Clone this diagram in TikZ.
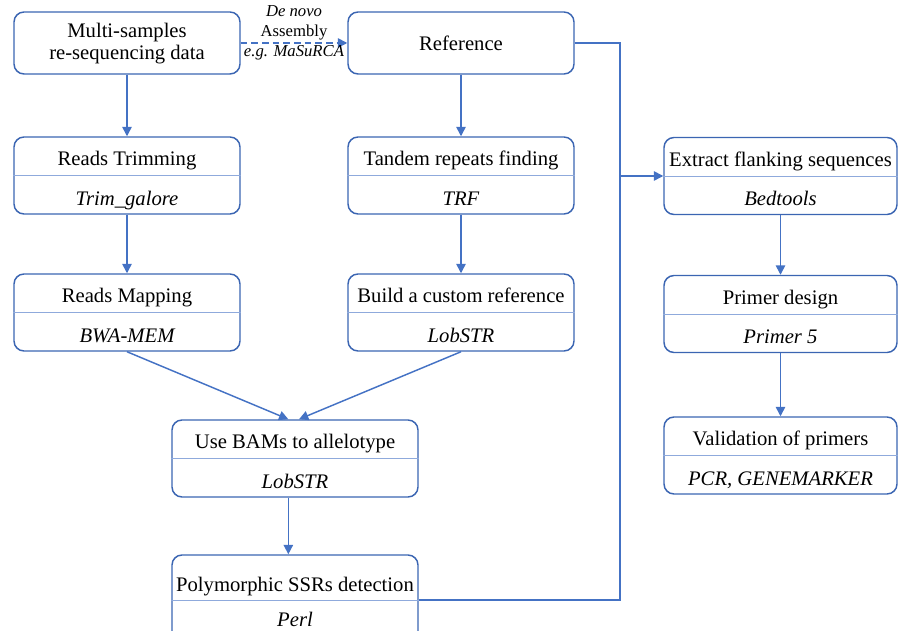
\documentclass[tikz,border=0pt]{standalone}
\usepackage{fontspec}
\setmainfont{Liberation Serif}
\usetikzlibrary{arrows.meta, positioning}
\definecolor{boxblue}{HTML}{3B65B2}
\definecolor{lineblue}{HTML}{4472C4}
\definecolor{splitblue}{HTML}{8FAADC}

\begin{document}
\begin{tikzpicture}[
    x=0.75pt, y=-0.75pt,
    stage/.style={rectangle, draw=boxblue, line width=1.1pt, rounded corners=7.5pt, minimum width=169.5pt, minimum height=57.75pt, inner sep=0pt, align=center, font=\fontsize{15.5}{16.5}\selectfont},
    wide/.style={stage, minimum width=184.5pt},
    side/.style={stage, minimum width=174.75pt},
    head/.style={inner sep=0pt, text height=11pt, text depth=4pt, font=\fontsize{15.5}{18}\selectfont},
    tool/.style={head, font=\fontsize{15.5}{18}\selectfont\itshape},
    divider/.style={draw=splitblue, line width=0.6pt},
    link/.style={draw=lineblue, line width=1.1pt},
    arrow/.style={->, >={Triangle[length=7pt, width=7pt]}, link},
    note/.style={font=\fontsize{12.5}{15}\selectfont, align=center, inner sep=1.5pt}
]
\useasboundingbox (0,0) rectangle (901,631);

% Input and reference
\node[stage, minimum height=46.5pt, text depth=3pt] (multi) at (127,43) {Multi-samples\\re-sequencing data};
\node[stage, minimum height=46.5pt] (ref) at (461,43) {Reference};

% Left column
\node[stage] (trim) at (127,175.5) {};
\draw[divider] (trim.west) -- (trim.east);
\node[head, above=3pt of trim.center] (trim-h) {Reads Trimming};
\node[tool, below=11pt of trim.center] (trim-s) {Trim\_galore};

\node[stage] (mapping) at (127,312.5) {};
\draw[divider] (mapping.west) -- (mapping.east);
\node[head, above=3pt of mapping.center] (mapping-h) {Reads Mapping};
\node[tool, below=11pt of mapping.center] (mapping-s) {BWA-MEM};

% Middle column
\node[stage] (tandem) at (461,175.5) {};
\draw[divider] (tandem.west) -- (tandem.east);
\node[head, above=3pt of tandem.center] (tandem-h) {Tandem repeats finding};
\node[tool, below=11pt of tandem.center] (tandem-s) {TRF};

\node[stage] (build) at (461,312.5) {};
\draw[divider] (build.west) -- (build.east);
\node[head, above=3pt of build.center] (build-h) {Build a custom reference};
\node[tool, below=11pt of build.center] (build-s) {LobSTR};

\node[wide] (bams) at (295,458.5) {};
\draw[divider] (bams.west) -- (bams.east);
\node[head, above=3pt of bams.center] (bams-h) {Use BAMs to allelotype};
\node[tool, below=11pt of bams.center] (bams-s) {LobSTR};

\node[wide, minimum height=67.5pt] (poly) at (295,600) {};
\draw[divider] (poly.west) -- (poly.east);
\node[head, above=2pt of poly.center] (poly-h) {Polymorphic SSRs detection};
\node[tool, below=8.5pt of poly.center] (poly-s) {Perl};

% Right column
\node[side] (extract) at (780.5,176) {};
\draw[divider] (extract.west) -- (extract.east);
\node[head, above=3pt of extract.center] (extract-h) {Extract flanking sequences};
\node[tool, below=11pt of extract.center] (extract-s) {Bedtools};

\node[side] (primer) at (780.5,314) {};
\draw[divider] (primer.west) -- (primer.east);
\node[head, above=3pt of primer.center] (primer-h) {Primer design};
\node[tool, below=11pt of primer.center] (primer-s) {Primer 5};

\node[side] (valid) at (780.5,455.5) {};
\draw[divider] (valid.west) -- (valid.east);
\node[head, above=3pt of valid.center] (valid-h) {Validation of primers};
\node[tool, below=11pt of valid.center] (valid-s) {PCR, GENEMARKER};

% Connections
\draw[arrow, dash pattern=on 5pt off 3pt] (multi) --
    node[note, above] {\textit{De novo}\\Assembly}
    node[note, below] {\textit{e.g. MaSuRCA}} (ref);
\draw[arrow] (multi) -- (trim);
\draw[arrow] (trim) -- (mapping);
\draw[arrow] (ref) -- (tandem);
\draw[arrow] (tandem) -- (build);
\draw[arrow] (mapping.south) -- ([xshift=-5pt]bams.north);
\draw[arrow] (build.south) -- ([xshift=3pt]bams.north);
\draw[arrow] ([xshift=-5pt]bams.south) -- ([xshift=-5pt]poly.north);

\coordinate (hub) at (620,176);
\draw[link] (ref.east) -| (hub) |- (poly.east);
\draw[arrow] (hub) -- (extract);
\draw[arrow] (extract) -- (primer);
\draw[arrow] (primer) -- (valid);

\end{tikzpicture}
\end{document}
